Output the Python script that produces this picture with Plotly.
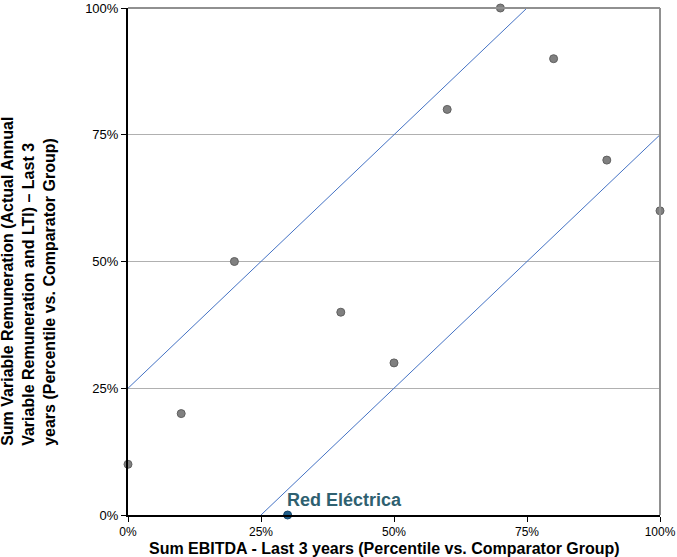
import plotly.graph_objects as go

peer_x = [0, 10, 20, 40, 50, 60, 70, 80, 90, 100]
peer_y = [10, 20, 50, 40, 30, 80, 100, 90, 70, 60]
company_name = "Red Eléctrica"
company_x = [30]
company_y = [0]
band_upper_x = [0, 75]
band_upper_y = [25, 100]
band_lower_x = [25, 100]
band_lower_y = [0, 75]
tick_vals = [0, 25, 50, 75, 100]
tick_text = ["0%", "25%", "50%", "75%", "100%"]

fig = go.Figure()
fig.add_trace(go.Scatter(x=band_upper_x, y=band_upper_y, mode="lines",
                         line=dict(color="#4472c4", width=1), hoverinfo="skip"))
fig.add_trace(go.Scatter(x=band_lower_x, y=band_lower_y, mode="lines",
                         line=dict(color="#4472c4", width=1), hoverinfo="skip"))
fig.add_trace(go.Scatter(x=peer_x, y=peer_y, mode="markers",
                         marker=dict(color="#808080", size=8,
                                     line=dict(color="#606060", width=1)),
                         cliponaxis=False))
fig.add_trace(go.Scatter(x=company_x, y=company_y, mode="markers",
                         marker=dict(color="#1f5f8b", size=8,
                                     line=dict(color="#17456a", width=1)),
                         cliponaxis=False))

fig.update_layout(
    width=677, height=557,
    margin=dict(l=128, r=17, t=8, b=42),
    paper_bgcolor="white", plot_bgcolor="white",
    showlegend=False,
    font=dict(family="Liberation Sans", size=12, color="#000000"),
    xaxis=dict(range=[0, 100], tickvals=tick_vals, ticktext=tick_text,
               showgrid=False, zeroline=False, showline=True, linecolor="black",
               linewidth=2, ticks="outside", ticklen=5, tickcolor="black",
               mirror=False, tickfont=dict(size=12), automargin=False),
    yaxis=dict(range=[0, 100], tickvals=tick_vals, ticktext=tick_text,
               showgrid=True, gridcolor="#b0b0b0", gridwidth=1, zeroline=False,
               showline=True, linecolor="black", linewidth=2,
               ticks="outside", ticklen=5, tickcolor="black", tickfont=dict(size=13),
               automargin=False),
    shapes=[
        dict(type="line", xref="paper", yref="paper", x0=0, x1=1, y0=1, y1=1,
             line=dict(color="#909090", width=2)),
        dict(type="line", xref="paper", yref="paper", x0=1, x1=1, y0=0, y1=1,
             line=dict(color="#909090", width=2)),
    ],
    annotations=[
        dict(text="<b>" + company_name + "</b>", x=company_x[0], y=company_y[0],
             xref="x", yref="y", xanchor="left", yanchor="bottom",
             xshift=-3, yshift=3, showarrow=False,
             font=dict(size=18, color="#2e6070")),
        dict(text="<b>Sum EBITDA - Last 3 years (Percentile vs. Comparator Group)</b>",
             xref="paper", yref="paper", x=0.482, y=-0.045, yanchor="top",
             showarrow=False, font=dict(size=16)),
        dict(text="<b>Sum Variable Remuneration (Actual Annual<br>Variable Remuneration and LTI) – Last 3<br>years (Percentile vs. Comparator Group)</b>",
             xref="paper", yref="paper", x=-0.186, y=0.46, xanchor="center", yanchor="middle",
             textangle=-90, showarrow=False, align="left", font=dict(size=16)),
    ],
)
fig.write_html("out.html", config={"displayModeBar": False},
               post_script="document.body.style.margin='0';")
